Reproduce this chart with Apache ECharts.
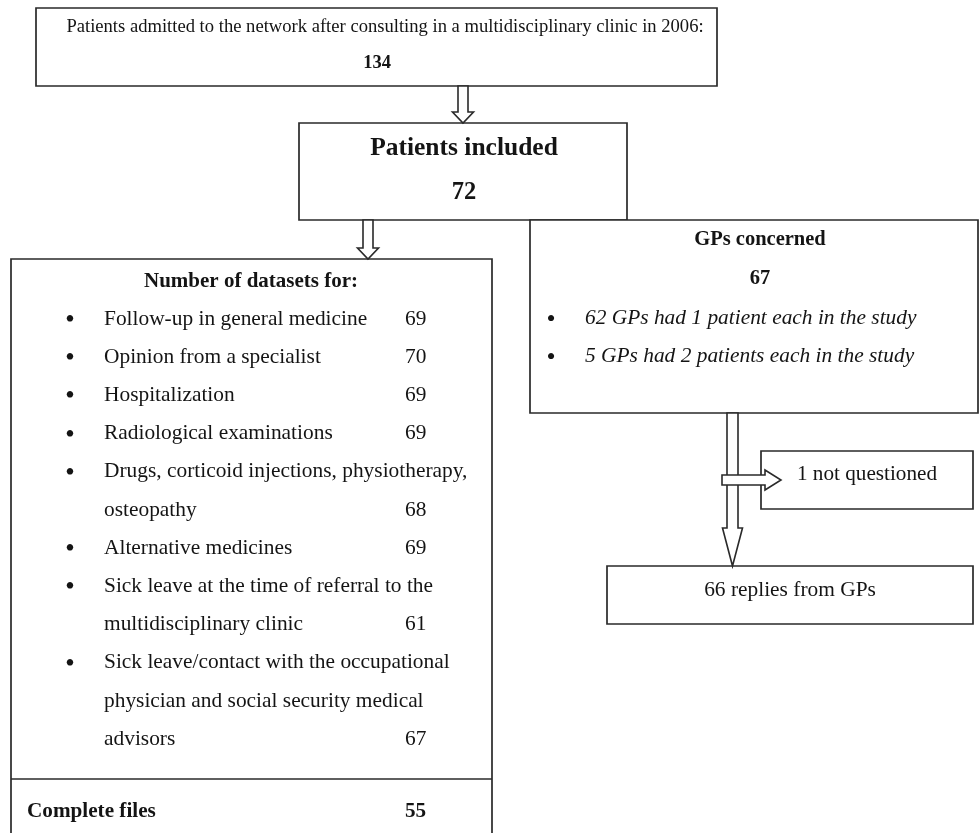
<!DOCTYPE html>
<html>
<head>
    <meta charset="utf-8">
    <title>Flow chart</title>
    <script type="text/javascript" src="https://cdn.jsdelivr.net/npm/echarts@6/dist/echarts.min.js"></script>
    <style>
        html, body { margin: 0; padding: 0; background: #fff; }
    </style>
</head>
<body>
    <div id="main" style="width:980px;height:833px;"></div>

    <script type="text/javascript">
        // counts and labels
        var topLabel = 'Patients admitted to the network after consulting in a multidisciplinary clinic in 2006:';
        var admitted = 134;
        var includedLabel = 'Patients included';
        var included = 72;
        var datasetTitle = 'Number of datasets for:';
        var datasetItems = [
            ['Follow-up in general medicine'],
            ['Opinion from a specialist'],
            ['Hospitalization'],
            ['Radiological examinations'],
            ['Drugs, corticoid injections, physiotherapy,', 'osteopathy'],
            ['Alternative medicines'],
            ['Sick leave at the time of referral to the', 'multidisciplinary clinic'],
            ['Sick leave/contact with the occupational', 'physician and social security medical', 'advisors']
        ];
        var datasetCounts = [69, 70, 69, 69, 68, 69, 61, 67];
        var completeLabel = 'Complete files';
        var complete = 55;
        var gpLabel = 'GPs concerned';
        var gpCount = 67;
        var gpItems = ['62 GPs had 1 patient each in the study', '5 GPs had 2 patients each in the study'];
        var notQuestioned = 1;
        var replies = 66;

        // layout in page units (x right, y down)
        var boxes = [
            [36, 8, 717, 86],
            [299, 123, 627, 220],
            [11, 259, 492, 850],
            [530, 220, 978, 413],
            [761, 451, 973, 509],
            [607, 566, 973, 624]
        ];
        var dividers = [[11, 779, 492, 779]];
        // [x or y of axis, start, end, shaft half width, head half width, head length, dir]
        var arrows = [
            [463, 86, 123, 5, 10.5, 11, 'down'],
            [368, 220, 259, 5, 10.5, 11, 'down'],
            [732.5, 413, 566, 5.5, 10, 38, 'down'],
            [480, 722, 781, 5, 10, 16, 'right']
        ];

        var serif = '"Liberation Serif", "Times New Roman", serif';
        var ink = '#141414';
        var lineColor = '#2a2a2a';

        // text entries: x, y, text, size, weight, style, align
        var texts = [];
        function addText(x, y, t, size, weight, italic, align) {
            texts.push({ x: x, y: y, t: String(t), size: size, weight: weight || 'normal', italic: !!italic, align: align || 'left' });
        }
        addText(385, 27, topLabel, 18.6, 'normal', false, 'center');
        addText(377, 63, admitted, 18.5, 'bold', false, 'center');
        addText(464, 148, includedLabel, 25.5, 'bold', false, 'center');
        addText(464, 193, included, 24.5, 'bold', false, 'center');
        addText(251, 282, datasetTitle, 21, 'bold', false, 'center');
        var rowY = 319, rowStep = 38.2;
        for (var i = 0; i < datasetItems.length; i++) {
            addText(70, rowY + 2, '\u2022', 27, 'normal', false, 'center');
            for (var j = 0; j < datasetItems[i].length; j++) {
                addText(104, rowY, datasetItems[i][j], 21.4);
                if (j == datasetItems[i].length - 1) {
                    addText(405, rowY, datasetCounts[i], 21.4);
                }
                rowY += rowStep;
            }
        }
        addText(27, 812, completeLabel, 21.2, 'bold');
        addText(405, 812, complete, 21.2, 'bold');
        addText(760, 240, gpLabel, 20.5, 'bold', false, 'center');
        addText(760, 279, gpCount, 20.5, 'bold', false, 'center');
        for (var k = 0; k < gpItems.length; k++) {
            addText(551, 320 + k * 38, '\u2022', 26, 'normal', false, 'center');
            addText(585, 318 + k * 38, gpItems[k], 21.4, 'normal', true);
        }
        addText(867, 474, notQuestioned + ' not questioned', 21.2, 'normal', false, 'center');
        addText(790, 590, replies + ' replies from GPs', 21.4, 'normal', false, 'center');

        var myChart = echarts.init(document.getElementById('main'));

        var option = {
            backgroundColor: '#ffffff',
            animation: false,
            grid: { left: 0, right: 0, top: 0, bottom: 0 },
            xAxis: { type: 'value', min: 0, max: 980, show: false },
            yAxis: { type: 'value', min: 0, max: 833, inverse: true, show: false },
            series: [
                {
                    type: 'custom',
                    name: 'boxes',
                    data: boxes,
                    renderItem: function (params, api) {
                        var p1 = api.coord([api.value(0), api.value(1)]);
                        var p2 = api.coord([api.value(2), api.value(3)]);
                        return {
                            type: 'rect',
                            shape: { x: p1[0], y: p1[1], width: p2[0] - p1[0], height: p2[1] - p1[1] },
                            style: { fill: '#fff', stroke: lineColor, lineWidth: 1.7 }
                        };
                    }
                },
                {
                    type: 'custom',
                    name: 'dividers',
                    data: dividers,
                    renderItem: function (params, api) {
                        var p1 = api.coord([api.value(0), api.value(1)]);
                        var p2 = api.coord([api.value(2), api.value(3)]);
                        return {
                            type: 'line',
                            shape: { x1: p1[0], y1: p1[1], x2: p2[0], y2: p2[1] },
                            style: { stroke: lineColor, lineWidth: 1.7 }
                        };
                    }
                },
                {
                    type: 'custom',
                    name: 'arrows',
                    data: arrows.map(function (a) { return a.slice(0, 6); }),
                    renderItem: function (params, api) {
                        var a = arrows[params.dataIndex];
                        var c = a[0], s = a[1], e = a[2], w = a[3], hw = a[4], hl = a[5];
                        var pts;
                        if (a[6] == 'down') {
                            pts = [[c - w, s], [c + w, s], [c + w, e - hl], [c + hw, e - hl], [c, e],
                                   [c - hw, e - hl], [c - w, e - hl]];
                        } else {
                            pts = [[s, c - w], [e - hl, c - w], [e - hl, c - hw], [e, c],
                                   [e - hl, c + hw], [e - hl, c + w], [s, c + w]];
                        }
                        return {
                            type: 'polygon',
                            shape: { points: pts.map(function (p) { return api.coord(p); }) },
                            style: { fill: '#fff', stroke: lineColor, lineWidth: 1.6 }
                        };
                    }
                },
                {
                    type: 'custom',
                    name: 'texts',
                    data: texts.map(function (t) { return [t.x, t.y]; }),
                    renderItem: function (params, api) {
                        var t = texts[params.dataIndex];
                        var p = api.coord([api.value(0), api.value(1)]);
                        return {
                            type: 'text',
                            x: p[0],
                            y: p[1],
                            style: {
                                text: t.t,
                                fill: ink,
                                font: (t.italic ? 'italic ' : '') + t.weight + ' ' + t.size + 'px ' + serif,
                                textAlign: t.align,
                                textVerticalAlign: 'middle'
                            }
                        };
                    }
                }
            ]
        };

        myChart.setOption(option);
    </script>
</body>
</html>
